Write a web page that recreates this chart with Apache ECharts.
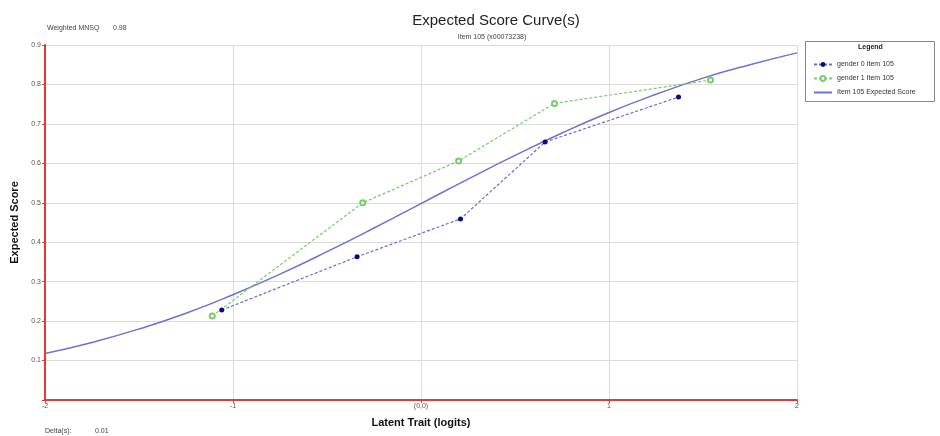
<!DOCTYPE html>
<html>
<head>
<meta charset="utf-8">
<script src="https://cdn.jsdelivr.net/npm/echarts@6/dist/echarts.min.js"></script>
<style>html,body{margin:0;padding:0;background:#fff}#c{width:940px;height:436px}</style>
</head>
<body>
<div id="c"></div>
<script>
// Data
const curveX = [-2, -1.75, -1.5, -1.25, -1, -0.75, -0.5, -0.25, 0, 0.25, 0.5, 0.75, 1, 1.25, 1.5, 1.75, 2];
const curveY = [0.118, 0.146, 0.180, 0.220, 0.267, 0.319, 0.376, 0.436, 0.498, 0.560, 0.620, 0.677, 0.729, 0.775, 0.816, 0.850, 0.880];
const g0X = [-1.06, -0.34, 0.21, 0.66, 1.37];
const g0Y = [0.228, 0.363, 0.459, 0.654, 0.768];
const g1X = [-1.11, -0.31, 0.20, 0.71, 1.54];
const g1Y = [0.213, 0.500, 0.606, 0.752, 0.811];
const xTickLabels = {"-2": "-2", "-1": "-1", "0": "(0,0)", "1": "1", "2": "2"};
const seriesNames = ["gender 0 Item 105", "gender 1 Item 105", "Item 105 Expected Score"];

const zip = (a, b) => a.map((v, i) => [v, b[i]]);
const FONT = "Liberation Sans, Arial, sans-serif";
const chart = echarts.init(document.getElementById('c'), null, {renderer: 'canvas'});
chart.setOption({
  animation: false,
  textStyle: {fontFamily: FONT},
  title: [
    {text: "Expected Score Curve(s)", left: 491, top: 8, textAlign: 'center',
     textStyle: {fontSize: 15, fontWeight: 'normal', color: '#222', fontFamily: FONT}},
    {text: "Item 105 (x00073238)", left: 487, top: 29, textAlign: 'center',
     textStyle: {fontSize: 7, fontWeight: 'normal', color: '#444', fontFamily: FONT}}
  ],
  grid: {left: 45, right: 143, top: 45, bottom: 36, containLabel: false},
  xAxis: {
    type: 'value', min: -2, max: 2, interval: 1,
    name: "Latent Trait (logits)", nameLocation: 'middle', nameGap: 17,
    nameTextStyle: {fontSize: 11, fontWeight: 'bold', color: '#111', fontFamily: FONT},
    axisLine: {onZero: false, lineStyle: {color: '#e03a3a', width: 2}},
    axisTick: {show: true, length: 3, lineStyle: {color: '#e03a3a'}},
    axisLabel: {fontSize: 7, color: '#555', margin: 3, showMinLabel: true, showMaxLabel: true,
      formatter: v => xTickLabels[String(v)] !== undefined ? xTickLabels[String(v)] : ''},
    splitLine: {show: true, lineStyle: {color: '#dcdcdc', width: 1}}
  },
  yAxis: {
    type: 'value', min: 0, max: 0.9, interval: 0.1,
    name: "Expected Score", nameLocation: 'middle', nameGap: 22,
    nameTextStyle: {fontSize: 11, fontWeight: 'bold', color: '#111', fontFamily: FONT},
    axisLine: {show: true, onZero: false, lineStyle: {color: '#e03a3a', width: 2}},
    axisTick: {show: true, length: 3, lineStyle: {color: '#e03a3a'}},
    axisLabel: {fontSize: 7, color: '#555', margin: 4,
      formatter: v => v === 0 ? '' : v.toFixed(1)},
    splitLine: {show: true, lineStyle: {color: '#dcdcdc', width: 1}}
  },
  legend: {
    orient: 'vertical', left: 808, top: 56, itemWidth: 18, itemHeight: 6, itemGap: 7,
    textStyle: {fontSize: 7, color: '#333', fontFamily: FONT},
    data: [seriesNames[0], seriesNames[1], {name: seriesNames[2], itemStyle: {opacity: 0}}]
  },
  graphic: [
    {type: 'rect', left: 805, top: 41, shape: {width: 129, height: 60},
     style: {fill: '#fff', stroke: '#888', lineWidth: 1}, z: -1},
    {type: 'text', left: 858, top: 44, style: {text: 'Legend', font: 'bold 7px ' + FONT, fill: '#222'}},
    {type: 'text', left: 47, top: 25, style: {text: 'Weighted MNSQ', font: '7px ' + FONT, fill: '#444'}},
    {type: 'text', left: 113, top: 25, style: {text: '0.98', font: '7px ' + FONT, fill: '#444'}},
    {type: 'text', left: 45, top: 428, style: {text: 'Delta(s):', font: '7px ' + FONT, fill: '#444'}},
    {type: 'text', left: 95, top: 428, style: {text: '0.01', font: '7px ' + FONT, fill: '#444'}}
  ],
  series: [
    {name: seriesNames[0], type: 'line', data: zip(g0X, g0Y), symbol: 'circle', symbolSize: 5,
     itemStyle: {color: '#0a0a80'}, lineStyle: {color: '#6a6ad8', width: 1.2, type: [3, 2]}, z: 3},
    {name: seriesNames[1], type: 'line', data: zip(g1X, g1Y), symbol: 'emptyCircle', symbolSize: 5,
     itemStyle: {color: '#7acb6a', borderColor: '#7acb6a', borderWidth: 1}, lineStyle: {color: '#7acb6a', width: 1.2, type: [3, 2]}, z: 3},
    {name: seriesNames[2], type: 'line', data: zip(curveX, curveY), symbol: 'none', smooth: true,
     itemStyle: {color: '#7070d0'}, lineStyle: {color: '#7070d0', width: 1.5}, z: 2}
  ]
});
</script>
</body>
</html>
